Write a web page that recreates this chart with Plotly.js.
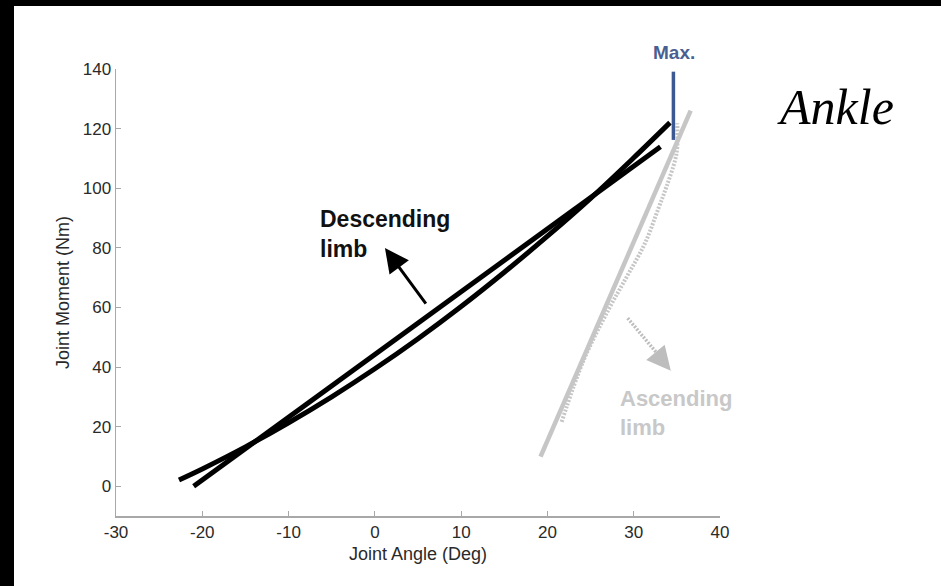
<!DOCTYPE html>
<html>
<head>
<meta charset="utf-8">
<script src="https://cdn.plot.ly/plotly-3.0.1.min.js"></script>
<style>
  html, body { margin: 0; padding: 0; background: #000; width: 941px; height: 586px; overflow: hidden; }
  #chart { position: absolute; left: 14px; top: 6px; width: 927px; height: 580px; background: #fff; }
</style>
</head>
<body>
<div id="chart"></div>
<script>
// Descending limb: measured curve and its straight fit
const descCurveX = [-22.7, -20, -15, -10, -5, 0, 5, 10, 15, 20, 25, 30, 34.2];
const descCurveY = [2.1, 5.8, 13.2, 21.3, 30.0, 39.4, 49.5, 60.3, 71.8, 83.9, 96.6, 110.2, 122.0];
const descLineX = [-21, 33.1];
const descLineY = [0, 113.9];
// Ascending limb: straight fit and dotted curve
const ascLineX = [19.2, 36.6];
const ascLineY = [9.9, 126];
const ascCurveX = [21.65, 24.2, 27.05, 29.2, 31.3, 32.9, 33.8, 34.8, 35.05, 35.05];
const ascCurveY = [21.6, 42.3, 59.1, 70.3, 81.5, 93.5, 100.5, 109.5, 113.9, 121.8];
// Max marker
const maxX = [34.6, 34.6];
const maxY = [116.2, 139.1];
// Axis ticks
const xTicks = [-30, -20, -10, 0, 10, 20, 30, 40];
const yTicks = [0, 20, 40, 60, 80, 100, 120, 140];
// Dotted arrow shaft (ascending)
const ascArrowX = [29.3, 33.3];
const ascArrowY = [56.4, 42.5];

const gray = '#c6c6c6';
const traces = [
  {x: ascCurveX, y: ascCurveY, mode: 'lines', line: {color: gray, width: 4, dash: '2px,1.5px', shape: 'spline'}, hoverinfo: 'skip'},
  {x: ascLineX, y: ascLineY, mode: 'lines', line: {color: gray, width: 4.5}, hoverinfo: 'skip'},
  {x: ascArrowX, y: ascArrowY, mode: 'lines', line: {color: '#bdbdbd', width: 3.5, dash: '2px,1.5px'}, hoverinfo: 'skip'},
  {x: descLineX, y: descLineY, mode: 'lines', line: {color: '#000', width: 5}, hoverinfo: 'skip'},
  {x: descCurveX, y: descCurveY, mode: 'lines', line: {color: '#000', width: 5, shape: 'spline'}, hoverinfo: 'skip'},
  {x: maxX, y: maxY, mode: 'lines', line: {color: '#3d5993', width: 3.5}, hoverinfo: 'skip'}
];

const tickFont = {family: 'Liberation Sans, Arial, sans-serif', size: 17, color: '#2a2a2a'};
const titleFont = {family: 'Liberation Sans, Arial, sans-serif', size: 18, color: '#2a2a2a'};

const layout = {
  width: 927, height: 580,
  margin: {l: 102, r: 221, t: 63, b: 70},
  paper_bgcolor: '#fff', plot_bgcolor: '#fff',
  showlegend: false,
  xaxis: {
    range: [-30, 40], tickvals: xTicks, ticktext: xTicks.map(String),
    showgrid: false, zeroline: false, showline: true, linecolor: '#a8a8a8', linewidth: 1.5,
    ticks: 'inside', ticklen: 5, tickcolor: '#a8a8a8', tickwidth: 1,
    tickfont: tickFont,
    title: {text: 'Joint Angle (Deg)', font: titleFont, standoff: 6}
  },
  yaxis: {
    range: [-10, 140], tickvals: yTicks, ticktext: yTicks.map(String),
    showgrid: false, zeroline: false, showline: true, linecolor: '#a8a8a8', linewidth: 1.5,
    ticks: 'inside', ticklen: 5, tickcolor: '#a8a8a8', tickwidth: 1,
    tickfont: tickFont,
    title: {text: 'Joint Moment (Nm)', font: titleFont, standoff: 8}
  },
  annotations: [
    {x: 1.17, y: 79.9, ax: 6.04, ay: 60.8, xref: 'x', yref: 'y', axref: 'x', ayref: 'y',
     text: '', showarrow: true, arrowhead: 2, arrowsize: 1.6, arrowwidth: 3, arrowcolor: '#000'},
    {x: 34.3, y: 38.7, ax: -10, ay: -12, xref: 'x', yref: 'y',
     text: '', showarrow: true, arrowhead: 2, arrowsize: 1.6, arrowwidth: 3, arrowcolor: '#bdbdbd'},
    {x: -6.6, y: 84.6, xref: 'x', yref: 'y', xanchor: 'left', yanchor: 'middle', align: 'left',
     text: '<b>Descending<br>limb</b>', showarrow: false,
     font: {family: 'Liberation Sans, Arial, sans-serif', size: 23, color: '#111'}},
    {x: 28.2, y: 24.6, xref: 'x', yref: 'y', xanchor: 'left', yanchor: 'middle', align: 'left',
     text: '<b>Ascending<br>limb</b>', showarrow: false,
     font: {family: 'Liberation Sans, Arial, sans-serif', size: 22, color: '#c8c8c8'}},
    {x: 34.67, y: 1.037, xref: 'x', yref: 'paper', xanchor: 'center', yanchor: 'middle',
     text: '<b>Max.</b>', showarrow: false,
     font: {family: 'Liberation Sans, Arial, sans-serif', size: 19, color: '#4a5f91'}},
    {x: 1.192, y: 127.2, xref: 'paper', yref: 'y', xanchor: 'center', yanchor: 'middle',
     text: '<i>Ankle</i>', showarrow: false,
     font: {family: 'Liberation Serif, Times New Roman, serif', size: 50, color: '#000'}}
  ]
};

Plotly.newPlot('chart', traces, layout, {staticPlot: true, displayModeBar: false});
</script>
</body>
</html>
